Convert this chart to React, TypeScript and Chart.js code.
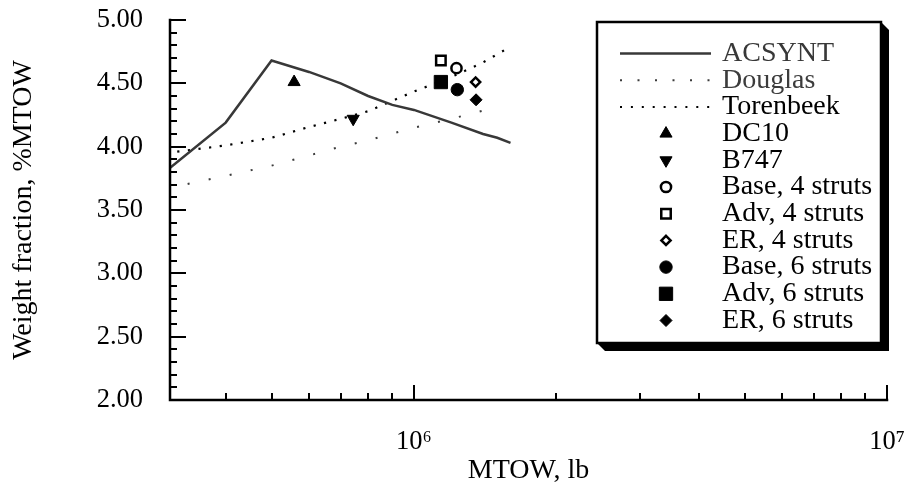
import React, { useEffect, useRef } from 'react';
import { Chart, registerables } from 'chart.js';

Chart.register(...registerables);

// ---------- data ----------
const acsyntX = [3.0e5, 4.0e5, 5.0e5, 6.0e5, 7.0e5, 8.0e5, 9.0e5, 1.0e6, 1.2e6, 1.4e6, 1.5e6, 1.6e6];
const acsyntY = [3.81, 4.19, 4.68, 4.59, 4.50, 4.40, 4.33, 4.29, 4.19, 4.10, 4.07, 4.03];

const douglasX = [3.0e5, 4.0e5, 5.0e5, 6.0e5, 7.0e5, 8.0e5, 1.0e6, 1.2e6, 1.45e6];
const douglasY = [3.67, 3.77, 3.85, 3.93, 4.00, 4.05, 4.15, 4.22, 4.30];

const torenbeekX = [3.0e5, 4.0e5, 5.0e5, 6.0e5, 7.0e5, 8.0e5, 1.0e6, 1.2e6, 1.4e6, 1.55e6];
const torenbeekY = [3.95, 4.01, 4.07, 4.155, 4.22, 4.28, 4.435, 4.55, 4.665, 4.76];

const markerLabels = ['DC10', 'B747', 'Base, 4 struts', 'Adv, 4 struts', 'ER, 4 struts', 'Base, 6 struts', 'Adv, 6 struts', 'ER, 6 struts'];
const markerX = [5.58e5, 7.44e5, 1.23e6, 1.14e6, 1.35e6, 1.235e6, 1.14e6, 1.353e6];
const markerY = [4.51, 4.22, 4.62, 4.68, 4.51, 4.45, 4.51, 4.37];

const xTickValues = [4e5, 5e5, 6e5, 7e5, 8e5, 9e5, 1e6, 2e6, 3e6, 4e6, 5e6, 6e6, 7e6, 8e6, 9e6, 1e7];
const xMajorValues = [1e6, 1e7];
const xMajorLabels = ['10\u2076', '10\u2077'];

const yTickValues = [2.0, 2.1, 2.2, 2.3, 2.4, 2.5, 2.6, 2.7, 2.8, 2.9, 3.0, 3.1, 3.2, 3.3, 3.4, 3.5, 3.6, 3.7, 3.8, 3.9, 4.0, 4.1, 4.2, 4.3, 4.4, 4.5, 4.6, 4.7, 4.8, 4.9, 5.0];
const yMajorValues = [2.0, 2.5, 3.0, 3.5, 4.0, 4.5, 5.0];
const yMajorLabels = ['2.00', '2.50', '3.00', '3.50', '4.00', '4.50', '5.00'];

// ---------- styles ----------
const FONT = '"Liberation Serif", "Times New Roman", Times, serif';
const GRAY = '#383838';

type MStyle = { style: string; radius: number; rotation: number; fill: string; border: number };
const markerStyles: MStyle[] = [
  { style: 'triangle', radius: 7, rotation: 0, fill: '#000', border: 1 },
  { style: 'triangle', radius: 7, rotation: 180, fill: '#000', border: 1 },
  { style: 'circle', radius: 5.1, rotation: 0, fill: '#fff', border: 2.5 },
  { style: 'rect', radius: 6.7, rotation: 0, fill: '#fff', border: 2.5 },
  { style: 'rectRot', radius: 4.6, rotation: 0, fill: '#fff', border: 2.5 },
  { style: 'circle', radius: 6.2, rotation: 0, fill: '#000', border: 1 },
  { style: 'rect', radius: 9.4, rotation: 0, fill: '#000', border: 1 },
  { style: 'rectRot', radius: 6, rotation: 0, fill: '#000', border: 1 },
];

const isNear = (a: number, b: number) => Math.abs(a - b) < 1e-6 * Math.max(1, Math.abs(b));

function drawMarker(ctx: CanvasRenderingContext2D, m: MStyle, x: number, y: number) {
  const r = m.radius;
  ctx.save();
  ctx.beginPath();
  if (m.style === 'circle') {
    ctx.arc(x, y, r, 0, Math.PI * 2);
  } else if (m.style === 'triangle') {
    let a = (m.rotation * Math.PI) / 180;
    for (let i = 0; i < 3; i++) {
      const px = x + Math.sin(a) * r;
      const py = y - Math.cos(a) * r;
      if (i === 0) ctx.moveTo(px, py); else ctx.lineTo(px, py);
      a += (2 * Math.PI) / 3;
    }
    ctx.closePath();
  } else if (m.style === 'rect') {
    const s = Math.SQRT1_2 * r;
    ctx.rect(x - s, y - s, 2 * s, 2 * s);
  } else if (m.style === 'rectRot') {
    ctx.moveTo(x, y - r);
    ctx.lineTo(x + r, y);
    ctx.lineTo(x, y + r);
    ctx.lineTo(x - r, y);
    ctx.closePath();
  }
  ctx.fillStyle = m.fill;
  ctx.fill();
  ctx.lineWidth = m.border;
  ctx.strokeStyle = '#000';
  ctx.stroke();
  ctx.restore();
}

const axesLegendPlugin = {
  id: 'axesLegend',
  afterDraw(chart: any) {
    const { ctx, chartArea: a, scales } = chart;
    const xs = scales.x;
    const ys = scales.y;
    ctx.save();
    // inward tick marks
    ctx.strokeStyle = '#000';
    ctx.lineWidth = 2;
    ctx.lineCap = 'butt';
    ctx.beginPath();
    for (const v of yTickValues) {
      const py = Math.round(ys.getPixelForValue(v));
      const len = yMajorValues.some((m) => isNear(m, v)) ? 16 : 7;
      ctx.moveTo(a.left, py);
      ctx.lineTo(a.left + len, py);
    }
    for (const v of xTickValues) {
      const px = Math.round(xs.getPixelForValue(v));
      const len = xMajorValues.some((m) => isNear(m, v)) ? 15 : 7;
      ctx.moveTo(px, a.bottom);
      ctx.lineTo(px, a.bottom - len);
    }
    ctx.stroke();
    // axis lines
    ctx.lineWidth = 2.5;
    ctx.lineCap = 'square';
    ctx.beginPath();
    ctx.moveTo(a.left, a.top);
    ctx.lineTo(a.left, a.bottom);
    ctx.lineTo(a.right, a.bottom);
    ctx.stroke();

    // legend box with shadow
    const L = 597, T = 22, R = 881, B = 343, S = 8;
    ctx.fillStyle = '#000';
    ctx.beginPath();
    ctx.moveTo(R, T);
    ctx.lineTo(R + S, T + S);
    ctx.lineTo(R + S, B + S);
    ctx.lineTo(L + S, B + S);
    ctx.lineTo(L, B);
    ctx.closePath();
    ctx.fill();
    ctx.fillStyle = '#fff';
    ctx.fillRect(L, T, R - L, B - T);
    ctx.lineWidth = 2.5;
    ctx.lineCap = 'butt';
    ctx.lineJoin = 'miter';
    ctx.strokeStyle = '#000';
    ctx.strokeRect(L, T, R - L, B - T);

    const rowY0 = 53.5;
    const rowStep = 26.7;
    const lineX0 = 620;
    const lineX1 = 711;
    const markX = 666;
    const textX = 722;
    ctx.font = `28px ${FONT}`;
    ctx.textBaseline = 'middle';
    ctx.textAlign = 'left';
    const dsets = chart.data.datasets;
    dsets.forEach((ds: any, i: number) => {
      const yy = rowY0 + i * rowStep;
      if (ds.showLine) {
        ctx.save();
        ctx.strokeStyle = ds.borderColor;
        ctx.lineWidth = ds.legendWidth;
        ctx.setLineDash(ds.legendDash);
        ctx.beginPath();
        ctx.moveTo(lineX0, yy);
        ctx.lineTo(lineX1, yy);
        ctx.stroke();
        ctx.restore();
      } else {
        drawMarker(ctx, ds.markerStyle, markX, yy);
      }
      ctx.fillStyle = ds.textColor;
      ctx.fillText(ds.label, textX, yy);
    });
    ctx.restore();
  },
};

export default function App() {
  const ref = useRef<HTMLCanvasElement>(null);
  useEffect(() => {
    if (!ref.current) return;
    const lineSets: any[] = [
      {
        label: 'ACSYNT',
        data: acsyntX.map((x, i) => ({ x, y: acsyntY[i] })),
        borderColor: GRAY,
        borderWidth: 2.5,
        borderDash: [],
        legendDash: [],
        legendWidth: 2.5,
        textColor: GRAY,
      },
      {
        label: 'Douglas',
        data: douglasX.map((x, i) => ({ x, y: douglasY[i] })),
        borderColor: '#3c3c3c',
        borderWidth: 2,
        borderDash: [2, 19.5],
        legendDash: [2, 15.5],
        legendWidth: 2,
        textColor: '#3c3c3c',
      },
      {
        label: 'Torenbeek',
        data: torenbeekX.map((x, i) => ({ x, y: torenbeekY[i] })),
        borderColor: '#000',
        borderWidth: 2.2,
        borderDash: [2.2, 8.5],
        legendDash: [2, 8.9],
        legendWidth: 2,
        textColor: '#000',
      },
    ].map((d) => ({
      ...d,
      showLine: true,
      pointRadius: 0,
      borderCapStyle: 'butt',
      tension: 0,
      fill: false,
      order: 1,
    }));
    const markerSets: any[] = markerLabels.map((label, i) => {
      const m = markerStyles[i];
      return {
        label,
        data: [{ x: markerX[i], y: markerY[i] }],
        showLine: false,
        pointStyle: m.style,
        pointRadius: m.radius,
        pointRotation: m.rotation,
        pointBackgroundColor: m.fill,
        pointBorderColor: '#000',
        pointBorderWidth: m.border,
        backgroundColor: m.fill,
        borderColor: '#000',
        markerStyle: m,
        textColor: '#000',
        order: 0,
      };
    });

    const hiddenTickGrid = {
      display: true,
      drawOnChartArea: false,
      drawTicks: true,
      color: 'rgba(0,0,0,0)',
      lineWidth: 0,
    };

    const chart = new Chart(ref.current, {
      type: 'scatter',
      data: { datasets: [...lineSets, ...markerSets] },
      options: {
        animation: false,
        responsive: false,
        devicePixelRatio: 1,
        layout: { padding: { top: 20, right: 22, bottom: 0, left: 0 } },
        plugins: { legend: { display: false }, tooltip: { enabled: false }, title: { display: false } },
        scales: {
          x: {
            type: 'logarithmic',
            min: 305000,
            max: 1e7,
            bounds: 'data',
            grid: { ...hiddenTickGrid, tickLength: 26 },
            border: { display: false },
            afterBuildTicks: (s: any) => {
              s.ticks = xTickValues.map((v) => ({ value: v }));
            },
            afterFit: (s: any) => {
              s.height = 96;
            },
            ticks: {
              autoSkip: false,
              maxRotation: 0,
              minRotation: 0,
              padding: 0,
              color: '#000',
              font: { family: FONT, size: 26.5 },
              callback: (v: any) => {
                const i = xMajorValues.findIndex((m) => isNear(m, Number(v)));
                return i >= 0 ? xMajorLabels[i] : '';
              },
            },
            title: {
              display: true,
              text: 'MTOW, lb',
              color: '#000',
              font: { family: FONT, size: 28 },
              padding: { top: 0, bottom: 9 },
            },
          },
          y: {
            type: 'linear',
            min: 2,
            max: 5,
            bounds: 'data',
            grid: { ...hiddenTickGrid, tickLength: 27 },
            border: { display: false },
            afterBuildTicks: (s: any) => {
              s.ticks = yTickValues.map((v) => ({ value: v }));
            },
            afterFit: (s: any) => {
              s.width = 170;
            },
            ticks: {
              autoSkip: false,
              padding: 0,
              color: '#000',
              font: { family: FONT, size: 26.5 },
              callback: (v: any) => {
                const i = yMajorValues.findIndex((m) => isNear(m, Number(v)));
                return i >= 0 ? yMajorLabels[i] : '';
              },
            },
            title: {
              display: true,
              text: 'Weight fraction, %MTOW',
              color: '#000',
              font: { family: FONT, size: 28 },
              padding: { top: 7, bottom: 0 },
            },
          },
        },
      },
      plugins: [axesLegendPlugin],
    } as any);
    return () => chart.destroy();
  }, []);

  return (
    <div style={{ position: 'fixed', left: 0, top: 0, width: 909, height: 496, background: '#fff' }}>
      <canvas ref={ref} width={909} height={496} style={{ display: 'block', width: 909, height: 496 }} />
    </div>
  );
}
